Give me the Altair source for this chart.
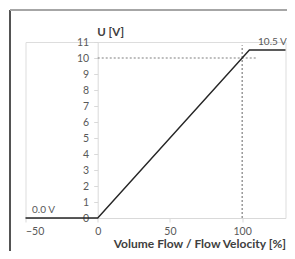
import altair as alt
import pandas as pd

# data
line_x = [-50, 0, 105, 130]
line_y = [0, 0, 10.5, 10.5]
h_dash_x = [0, 110]
h_dash_y = [10, 10]
v_dash_x = [100, 100]
v_dash_y = [0, 10.8]
label_text = ["0.0 V", "10.5 V"]
label_x = [-45.5, 111]
label_y = [0.5, 11.0]
x_ticks = [-50, 0, 50, 100]
y_ticks = list(range(0, 12))

FONT = "Lato"
W, H = 260, 176
PL, PT = 17.5, 34
TW, TH = 279, 243

line_df = pd.DataFrame({"x": line_x, "y": line_y})
h_df = pd.DataFrame({"x": h_dash_x, "y": h_dash_y})
v_df = pd.DataFrame({"x": v_dash_x, "y": v_dash_y})
lab_df = pd.DataFrame({"t": label_text, "x": label_x, "y": label_y})
one_df = pd.DataFrame({"k": [0]})

xs = alt.Scale(domain=[-50, 130], nice=False, zero=False)
ys = alt.Scale(domain=[0, 11], nice=False, zero=False)

xaxis = alt.Axis(values=x_ticks, grid=False, domainColor="#d9d9d9", tickColor="#d9d9d9",
                 tickSize=4, labelColor="#595959", labelFontSize=10.5, labelFont=FONT,
                 labelPadding=4, labelOverlap=False, title="Volume Flow / Flow Velocity [%]",
                 titleFont=FONT, titleFontSize=12, titleFontWeight="bold", titleColor="#404040",
                 titleAnchor="end", titleAlign="right", titlePadding=2)
yaxis = alt.Axis(values=y_ticks, grid=False, domainColor="#d9d9d9", tickColor="#d9d9d9",
                 tickSize=4, labelColor="#595959", labelFontSize=10.5, labelFont=FONT,
                 labelPadding=5, labelOverlap=False, offset=-72.2, title="U [V]", titleAngle=0,
                 titleFont=FONT, titleFontSize=11.5, titleFontWeight="bold", titleColor="#404040",
                 titleAlign="left", titleBaseline="alphabetic", titleX=-1, titleY=-7)

X = alt.X("x:Q", scale=xs, axis=xaxis)
Y = alt.Y("y:Q", scale=ys, axis=yaxis)

dash_h = alt.Chart(h_df).mark_line(color="#7f7f7f", strokeDash=[2, 2], strokeWidth=1.2).encode(x=X, y=Y)
dash_v = alt.Chart(v_df).mark_line(color="#7f7f7f", strokeDash=[2, 2], strokeWidth=1.2).encode(x=X, y=Y)
line = alt.Chart(line_df).mark_line(color="#262626", strokeWidth=1.4).encode(x=X, y=Y)
labels = alt.Chart(lab_df).mark_text(align="left", baseline="middle", font=FONT, fontSize=10,
                                     color="#595959").encode(x=X, y=Y, text="t:N")

frame_left = alt.Chart(one_df).mark_rule(color="#1a1a1a", strokeWidth=1.5).encode(
    x=alt.value(2 - PL), y=alt.value(2 - PT), y2=alt.value(TH - PT))
frame_top = alt.Chart(one_df).mark_rule(color="#a6a6a6", strokeWidth=2).encode(
    x=alt.value(2 - PL), x2=alt.value(TW - PL), y=alt.value(2 - PT))

chart = alt.layer(dash_h, dash_v, line, labels, frame_left, frame_top).properties(
    width=W, height=H,
    autosize=alt.AutoSizeParams(type="none"),
    padding={"left": PL, "top": PT, "right": TW - W - PL, "bottom": TH - H - PT},
).configure_view(strokeWidth=0, stroke="transparent").configure(background="white")

chart.save("out.html", embed_options={"renderer": "svg", "actions": False})
